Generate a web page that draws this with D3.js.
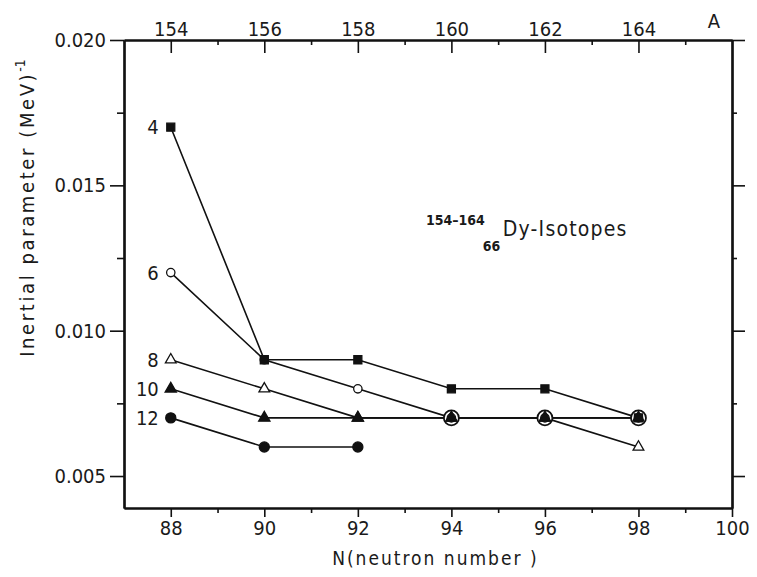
<!DOCTYPE html>
<html>
<head>
<meta charset="utf-8">
<script src="https://cdn.jsdelivr.net/npm/d3@7"></script>
<style>
body { margin: 0; background: #fff; }
text { font-family: "DejaVu Sans Condensed", "DejaVu Sans", sans-serif; font-stretch: condensed; fill: #1a1a1a; }
</style>
</head>
<body>
<script>
// neutron numbers on the x axis, mass numbers A = N + 66 on top
var neutrons = [88, 90, 92, 94, 96, 98];
var spinLabels = ["4", "6", "8", "10", "12"];
var spin4  = [0.017, 0.009, 0.009, 0.008, 0.008, 0.007];
var spin6  = [0.012, 0.009, 0.008, 0.007, 0.007, 0.007];
var spin8  = [0.009, 0.008, 0.007, 0.007, 0.007, 0.006];
var spin10 = [0.008, 0.007, 0.007, 0.007, 0.007, 0.007];
var spin12 = [0.007, 0.006, 0.006, null, null, null];
var xTicks = [88, 90, 92, 94, 96, 98, 100];
var aTicks = [154, 156, 158, 160, 162, 164];
var yTicks = [0.005, 0.010, 0.015, 0.020];

var width = 757, height = 577;
var margin = {top: 40, right: 25, bottom: 69, left: 124};

var svg = d3.select("body").append("svg")
    .attr("width", width)
    .attr("height", height);

var x = d3.scaleLinear().domain([87, 100]).range([margin.left, width - margin.right]);
var xA = d3.scaleLinear().domain([87 + 66, 100 + 66]).range([margin.left, width - margin.right]);
var y = d3.scaleLinear().domain([0.0039, 0.020]).range([height - margin.bottom, margin.top]);

// marker style per series
var series = [
    {label: spinLabels[0], values: spin4,  type: d3.symbolSquare,   size: 64, filled: true},
    {label: spinLabels[1], values: spin6,  type: d3.symbolCircle,   size: 55, filled: false},
    {label: spinLabels[2], values: spin8,  type: d3.symbolTriangle, size: 50, filled: false},
    {label: spinLabels[3], values: spin10, type: d3.symbolTriangle, size: 55, filled: true},
    {label: spinLabels[4], values: spin12, type: d3.symbolCircle,   size: 80, filled: true}
];

function minorOf(ticks, step) {
    return ticks.slice(0, -1).map(function(t) { return t + step; });
}

// axes: major ticks with labels, minor ticks without
function drawAxis(axisFn, scale, ticks, size, fmt, transform, cls) {
    var g = svg.append("g").attr("class", cls).attr("transform", transform)
        .call(axisFn(scale).tickValues(ticks).tickSize(size).tickSizeOuter(0).tickFormat(fmt).tickPadding(4));
    g.select(".domain").attr("stroke-width", 2.2).attr("stroke", "#111");
    g.selectAll(".tick line").attr("stroke-width", 1.6).attr("stroke", "#111");
    g.selectAll(".tick text").attr("font-size", 20).attr("fill", "#1a1a1a");
    return g;
}
var none = function() { return ""; };

// bottom
drawAxis(d3.axisBottom, x, xTicks, 9, d3.format("d"), "translate(0," + y.range()[0] + ")", "x-axis");
drawAxis(d3.axisBottom, x, [89, 91, 93, 95, 97, 99], 5, none, "translate(0," + y.range()[0] + ")", "x-minor");
// top (mass number)
drawAxis(d3.axisTop, xA, aTicks, -13, d3.format("d"), "translate(0," + margin.top + ")", "a-axis");
drawAxis(d3.axisTop, xA, [155, 157, 159, 161, 163, 165], -5, none, "translate(0," + margin.top + ")", "a-minor");
// left
drawAxis(d3.axisLeft, y, yTicks, 14, d3.format(".3f"), "translate(" + margin.left + ",0)", "y-axis");
drawAxis(d3.axisLeft, y, minorOf(yTicks, 0.0025), 7, none, "translate(" + margin.left + ",0)", "y-minor");
// right
drawAxis(d3.axisRight, y, yTicks, 13, none, "translate(" + (width - margin.right) + ",0)", "y-right");
drawAxis(d3.axisRight, y, minorOf(yTicks, 0.0025), 5, none, "translate(" + (width - margin.right) + ",0)", "y-right-minor");

svg.append("text")
    .attr("x", width - margin.right - 18)
    .attr("y", margin.top - 12)
    .attr("text-anchor", "middle")
    .attr("font-size", 20)
    .text("A");

// axis titles
svg.append("text")
    .attr("x", (x(88) + x(100)) / 2 - 16)
    .attr("y", height - 12)
    .attr("text-anchor", "middle")
    .attr("font-size", 19)
    .attr("letter-spacing", 2)
    .text("N(neutron number )");

var ylab = svg.append("text")
    .attr("transform", "translate(34," + 208 + ") rotate(-90)")
    .attr("text-anchor", "middle")
    .attr("font-size", 20)
    .attr("letter-spacing", 2.6);
ylab.append("tspan").text("Inertial parameter (MeV)");
ylab.append("tspan").attr("dy", -9).attr("font-size", 14).attr("letter-spacing", 0).text("-1");

// lines
var line = d3.line()
    .defined(function(d) { return d[1] != null; })
    .x(function(d) { return x(d[0]); })
    .y(function(d) { return y(d[1]); });

series.forEach(function(s) {
    var pts = neutrons.map(function(n, i) { return [n, s.values[i]]; });
    svg.append("path")
        .datum(pts)
        .attr("fill", "none")
        .attr("stroke", "#111")
        .attr("stroke-width", 1.6)
        .attr("d", line);
});

// large ring where three or more series share a point
neutrons.forEach(function(n, i) {
    var counts = {};
    series.forEach(function(s) {
        var v = s.values[i];
        if (v != null) counts[v] = (counts[v] || 0) + 1;
    });
    Object.keys(counts).forEach(function(v) {
        if (counts[v] >= 3) {
            svg.append("circle")
                .attr("cx", x(n)).attr("cy", y(+v)).attr("r", 7.5)
                .attr("fill", "#fff").attr("stroke", "#111").attr("stroke-width", 1.8);
        }
    });
});

// markers: open symbols first so filled ones stay visible where they overlap
var drawOrder = series.filter(function(s) { return !s.filled; })
    .concat(series.filter(function(s) { return s.filled; }));

drawOrder.forEach(function(s) {
    var pts = neutrons.map(function(n, i) { return [n, s.values[i]]; })
        .filter(function(d) { return d[1] != null; });
    svg.append("g").selectAll("path")
        .data(pts)
        .join("path")
        .attr("transform", function(d) { return "translate(" + x(d[0]) + "," + y(d[1]) + ")"; })
        .attr("d", d3.symbol().type(s.type).size(s.size))
        .attr("fill", s.filled ? "#111" : "#fff")
        .attr("stroke", "#111")
        .attr("stroke-width", 1.3);
});

// spin labels left of first point
series.forEach(function(s) {
    svg.append("text")
        .attr("x", x(neutrons[0]) - 12)
        .attr("y", y(s.values[0]))
        .attr("dy", "0.35em")
        .attr("text-anchor", "end")
        .attr("font-size", 20)
        .text(s.label);
});

// isotope note
var note = svg.append("g").attr("transform", "translate(" + x(95.1) + "," + y(0.01327) + ")");
note.append("text").attr("x", -18).attr("y", -11).attr("text-anchor", "end")
    .attr("font-size", 14).attr("font-weight", "bold").text("154\u2013164");
note.append("text").attr("x", -20).attr("y", 15)
    .attr("font-size", 14).attr("font-weight", "bold").text("66");
note.append("text").attr("x", 0).attr("y", 0)
    .attr("font-size", 21).attr("letter-spacing", 1.2).text("Dy-Isotopes");
</script>
</body>
</html>
